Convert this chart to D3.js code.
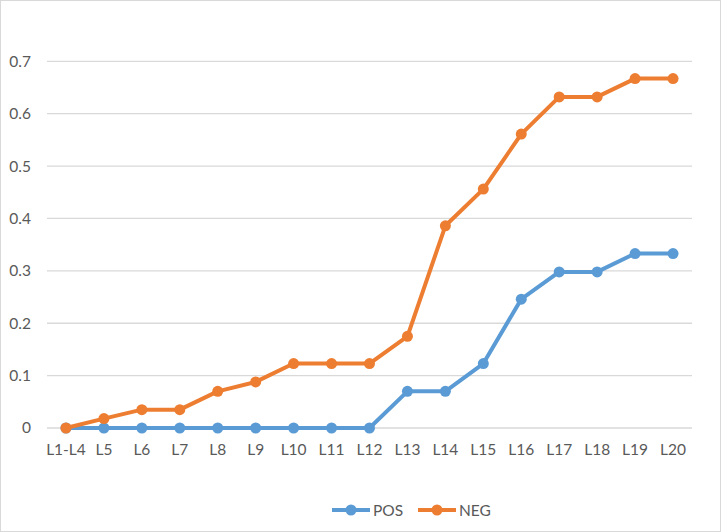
<!DOCTYPE html>
<html><head><meta charset="utf-8">
<script src="https://cdn.jsdelivr.net/npm/d3@7"></script>
<style>body{margin:0;background:#fff}svg{display:block}</style>
</head><body>
<svg id="c" width="721" height="532"></svg>
<script>
const categories = ["L1-L4","L5","L6","L7","L8","L9","L10","L11","L12","L13","L14","L15","L16","L17","L18","L19","L20"];
const posValues = [0,0,0,0,0,0,0,0,0,0.070,0.070,0.123,0.246,0.298,0.298,0.333,0.333];
const negValues = [0,0.018,0.035,0.035,0.070,0.088,0.123,0.123,0.123,0.175,0.386,0.456,0.561,0.632,0.632,0.667,0.667];
const yTicks = [0,0.1,0.2,0.3,0.4,0.5,0.6,0.7];
const seriesNames = ["POS","NEG"];
const colors = ["#5B9BD5","#ED7D31"];

const svg = d3.select("#c");
const font = "Lato, 'Open Sans', sans-serif";
svg.append("rect").attr("x",0.5).attr("y",0.5).attr("width",720).attr("height",531)
  .attr("fill","#fff").attr("stroke","#D9D9D9");

const x = d3.scaleBand().domain(categories).range([47,692]);
const y = d3.scaleLinear().domain([0,0.7]).range([428,61.3]);

// gridlines
svg.append("g").selectAll("line").data(yTicks).join("line")
  .attr("x1",47).attr("x2",692).attr("y1",d=>y(d)).attr("y2",d=>y(d))
  .attr("stroke","#D9D9D9").attr("stroke-width",1.3);

// y labels
const yAxis = d3.axisLeft(y).tickValues(yTicks).tickSize(0).tickPadding(0).tickFormat(d=>d===0?"0":d3.format(".1f")(d));
const ga = svg.append("g").attr("transform","translate(31,0)").call(yAxis);
ga.select(".domain").remove();
ga.selectAll("text").attr("font-family",font).attr("font-size",15.5).attr("fill","#595959");

// x labels
const xAxis = d3.axisBottom(x).tickSize(0).tickPadding(0);
const gx = svg.append("g").attr("transform","translate(0,444)").call(xAxis);
gx.select(".domain").remove();
gx.selectAll("text").attr("font-family",font).attr("font-size",15.5).attr("fill","#595959");

const cx = d => x(d) + x.bandwidth()/2;
const data = [posValues, negValues];
const line = d3.line().x((d,i)=>cx(categories[i])).y(d=>y(d));
data.forEach((vals,k)=>{
  svg.append("path").datum(vals).attr("d",line).attr("fill","none")
    .attr("stroke",colors[k]).attr("stroke-width",4).attr("stroke-linejoin","round");
  svg.append("g").selectAll("circle").data(vals).join("circle")
    .attr("cx",(d,i)=>cx(categories[i])).attr("cy",d=>y(d)).attr("r",5.5).attr("fill",colors[k]);
});

// legend
const leg = [{x0:332,t:373},{x0:418,t:459}];
seriesNames.forEach((n,k)=>{
  const g = svg.append("g");
  g.append("line").attr("x1",leg[k].x0).attr("x2",leg[k].x0+38).attr("y1",510).attr("y2",510)
    .attr("stroke",colors[k]).attr("stroke-width",4);
  g.append("circle").attr("cx",leg[k].x0+19).attr("cy",510).attr("r",5.5).attr("fill",colors[k]);
  g.append("text").attr("x",leg[k].t).attr("y",515.5).text(n)
    .attr("font-family",font).attr("font-size",15.5).attr("fill","#595959");
});
</script>
</body></html>
